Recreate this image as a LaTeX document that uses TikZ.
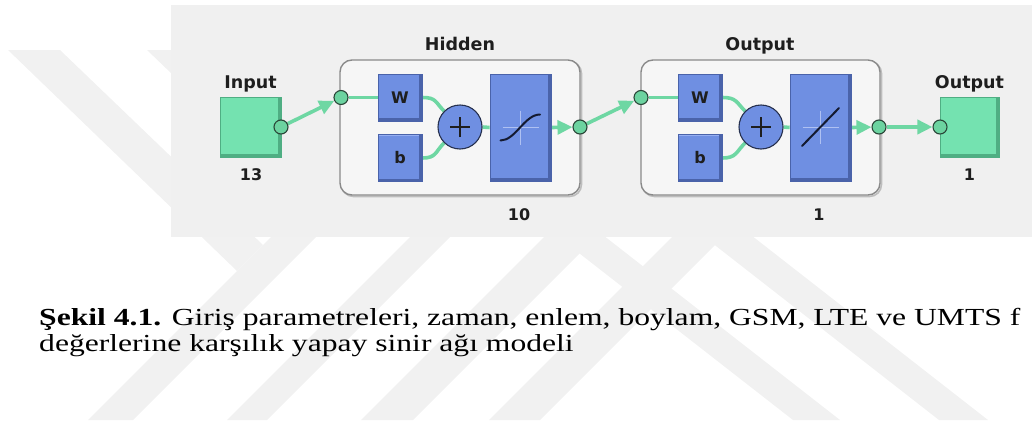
\documentclass[tikz,border=0pt]{standalone}
\usepackage{fontspec}
\setmainfont{Liberation Serif}
\newfontfamily\netfont{DejaVu Sans}
\usetikzlibrary{arrows.meta,calc}

\definecolor{wmark}{HTML}{F1F1F1}
\definecolor{panel}{HTML}{F0F0F0}
\definecolor{layerfill}{HTML}{F6F6F6}
\definecolor{layerline}{HTML}{8A8A8A}
\definecolor{layershade}{HTML}{BDBDBD}
\definecolor{grn}{HTML}{74E2B0}
\definecolor{grnlight}{HTML}{9CEEC9}
\definecolor{grndark}{HTML}{4FAE83}
\definecolor{blu}{HTML}{6F8FE2}
\definecolor{blulight}{HTML}{95AEF1}
\definecolor{bludark}{HTML}{4A63AA}
\definecolor{wiregreen}{HTML}{6ED7A3}
\definecolor{portfill}{HTML}{6CD3A0}
\definecolor{portline}{HTML}{2A4638}
\definecolor{sumline}{HTML}{26304E}
\definecolor{curveink}{HTML}{141A30}
\definecolor{axisink}{HTML}{AFC1F2}
\definecolor{ink}{HTML}{1E1E1E}

\pgfdeclarelayer{back}
\pgfdeclarelayer{wires}
\pgfsetlayers{back,wires,main}

\newcommand{\captionwide}[1]{\scalebox{1.29}[1]{#1}}

\tikzset{
  bevel/.style 2 args={path picture={
    \draw[#1, line width=2pt] (path picture bounding box.south west) -- (path picture bounding box.north west) -- (path picture bounding box.north east);
    \draw[#2, line width=6pt] (path picture bounding box.north east) -- (path picture bounding box.south east) -- (path picture bounding box.south west);}},
  gbox/.style={rectangle, fill=grn, draw=grndark, line width=0.8pt, inner sep=0pt,
    minimum width=61pt, minimum height=60pt, bevel={grnlight}{grndark}},
  bbox/.style={rectangle, fill=blu, draw=bludark, line width=0.8pt, inner sep=0pt, text=ink,
    font=\netfont\bfseries\fontsize{16}{16}\selectfont, bevel={blulight}{bludark}},
  wbox/.style={bbox, minimum width=44pt, minimum height=47pt},
  fbox/.style={bbox, minimum width=61pt, minimum height=107pt},
  sumnode/.style={circle, fill=blu, draw=sumline, line width=1.1pt, minimum size=44pt, inner sep=0pt,
    path picture={\draw[ink, line width=2pt]
      ([xshift=-10pt]path picture bounding box.center) -- ([xshift=10pt]path picture bounding box.center)
      ([yshift=-10pt]path picture bounding box.center) -- ([yshift=10pt]path picture bounding box.center);}},
  portdot/.style={circle, fill=portfill, draw=portline, line width=1.1pt, minimum size=14pt, inner sep=0pt},
  layerbox/.style={rectangle, rounded corners=12pt, fill=layerfill, draw=layerline, line width=1.4pt, inner sep=0pt},
  wireline/.style={draw=wiregreen, line width=3.6pt},
  feed/.style={wireline, -{Triangle[length=15pt,width=14pt]}},
  laytitle/.style={font=\netfont\bfseries\fontsize{17.5}{18}\selectfont, text=ink, inner sep=0pt, anchor=base},
  dimlabel/.style={font=\netfont\bfseries\fontsize{16}{16}\selectfont, text=ink, inner sep=0pt, anchor=base},
  captext/.style={font=\fontsize{24.5}{26}\selectfont, inner sep=0pt, anchor=base west},
  axisline/.style={draw=axisink, line width=1.2pt},
  tfcurve/.style={draw=curveink, line width=2pt, line cap=round},
}

\begin{document}
\begin{tikzpicture}[x=1pt, y=-1pt]
\useasboundingbox (0,0) rectangle (1032,423);

\begin{pgfonlayer}{back}
  % faint page watermark stripes
  \fill[wmark] (8,50) -- (60,50) -- (263,245) -- (237,271) -- cycle;
  \fill[wmark] (147,50) -- (199,50) -- (380,224) -- (328,224) -- cycle;
  \fill[wmark] (503,5) -- (548,5) -- (133,420) -- (88,420) -- cycle;
  \fill[wmark] (642,5) -- (682,5) -- (267,420) -- (227,420) -- cycle;
  \fill[wmark] (776,5) -- (828,5) -- (413,420) -- (361,420) -- cycle;
  \fill[wmark] (904,5) -- (955,5) -- (540,420) -- (489,420) -- cycle;
  \fill[wmark] (511,200) -- (558,200) -- (840,420) -- (793,420) -- cycle;
  \fill[wmark] (657,200) -- (706,200) -- (988,420) -- (939,420) -- cycle;

  % diagram panel
  \fill[panel] (171,5) rectangle (1032,237);

  % layer frames with a soft edge shade
  \draw[draw=layershade, line width=1.6pt, rounded corners=12pt] (341.5,61.5) rectangle (581.5,196.5);
  \draw[draw=layershade, line width=1.6pt, rounded corners=12pt] (642.5,61.5) rectangle (881.5,196.5);
  \node[layerbox, minimum width=240pt, minimum height=135pt] (hidden) at (460,127.5) {};
  \node[layerbox, minimum width=239pt, minimum height=135pt] (outlayer) at (760.5,127.5) {};
\end{pgfonlayer}

% input and output blocks
\node[gbox] (in) at (250.5,127) {};
\node[gbox, minimum width=59pt] (out) at (969.5,127) {};

% hidden layer
\node[wbox] (w1) at (400,97.5) {W};
\node[wbox] (b1) at (400,158) {b};
\node[sumnode] (s1) at (460,127) {};
\node[fbox] (f1) at (520.5,127.5) {};

% output layer
\node[wbox] (w2) at (700,97.5) {W};
\node[wbox] (b2) at (700,158) {b};
\node[sumnode] (s2) at (761,127) {};
\node[fbox] (f2) at (820.5,127.5) {};

% ports
\node[portdot] (p1) at (281,127) {};
\node[portdot] (p2) at (341,97.5) {};
\node[portdot] (p3) at (580,127) {};
\node[portdot] (p4) at (641,97.5) {};
\node[portdot] (p5) at (879,127) {};
\node[portdot] (p6) at (940,127) {};

% transfer function glyphs
\draw[axisline] ($(f1)+(0,-17)$) -- ($(f1)+(0,17)$);
\draw[axisline] ($(f1)+(-18,0)$) -- ($(f1)+(18,0)$);
\draw[tfcurve] ($(f1)+(-20,13)$) .. controls ($(f1)+(-5,13)$) and ($(f1)+(4,-13)$) .. ($(f1)+(19.5,-13)$);
\draw[axisline] ($(f2)+(0,-17)$) -- ($(f2)+(0,16)$);
\draw[axisline] ($(f2)+(-18,0)$) -- ($(f2)+(18,0)$);
\draw[tfcurve] ($(f2)+(-18.5,18.5)$) -- ($(f2)+(18.5,-19.5)$);

% connections
\begin{pgfonlayer}{wires}
  \draw[feed] (p1) -- (p2);
  \draw[wireline] (p2) -- (w1.west);
  \draw[wireline] (w1.east) .. controls +(14,0) and +(-9,-9) .. (s1.north west);
  \draw[wireline] (b1.east) .. controls +(14,0) and +(-9,9) .. (s1.south west);
  \draw[wireline] (s1.east) -- (f1.west);
  \draw[feed] (f1.east) -- (p3);
  \draw[feed] (p3) -- (p4);
  \draw[wireline] (p4) -- (w2.west);
  \draw[wireline] (w2.east) .. controls +(14,0) and +(-9,-9) .. (s2.north west);
  \draw[wireline] (b2.east) .. controls +(14,0) and +(-9,9) .. (s2.south west);
  \draw[wireline] (s2.east) -- (f2.west);
  \draw[feed] (f2.east) -- (p5);
  \draw[feed] (p5) -- (p6);
\end{pgfonlayer}

% labels
\node[laytitle] (tin) at (250.5,88) {Input};
\node[dimlabel] (nin) at (251,180) {13};
\node[laytitle] (thid) at (460,50) {Hidden};
\node[dimlabel] (nhid) at (519,220) {10};
\node[laytitle] (tol) at (760,50) {Output};
\node[dimlabel] (nol) at (819,220) {1};
\node[laytitle] (tout) at (969.5,88) {Output};
\node[dimlabel] (nout) at (969.5,180) {1};

% caption
\node[captext] (cap1) at (39,325) {\captionwide{\textbf{Şekil 4.1.} Giriş parametreleri, zaman, enlem, boylam, GSM, LTE ve UMTS f}};
\node[captext] (cap2) at (39,351) {\captionwide{değerlerine karşılık yapay sinir ağı modeli}};
\end{tikzpicture}
\end{document}
